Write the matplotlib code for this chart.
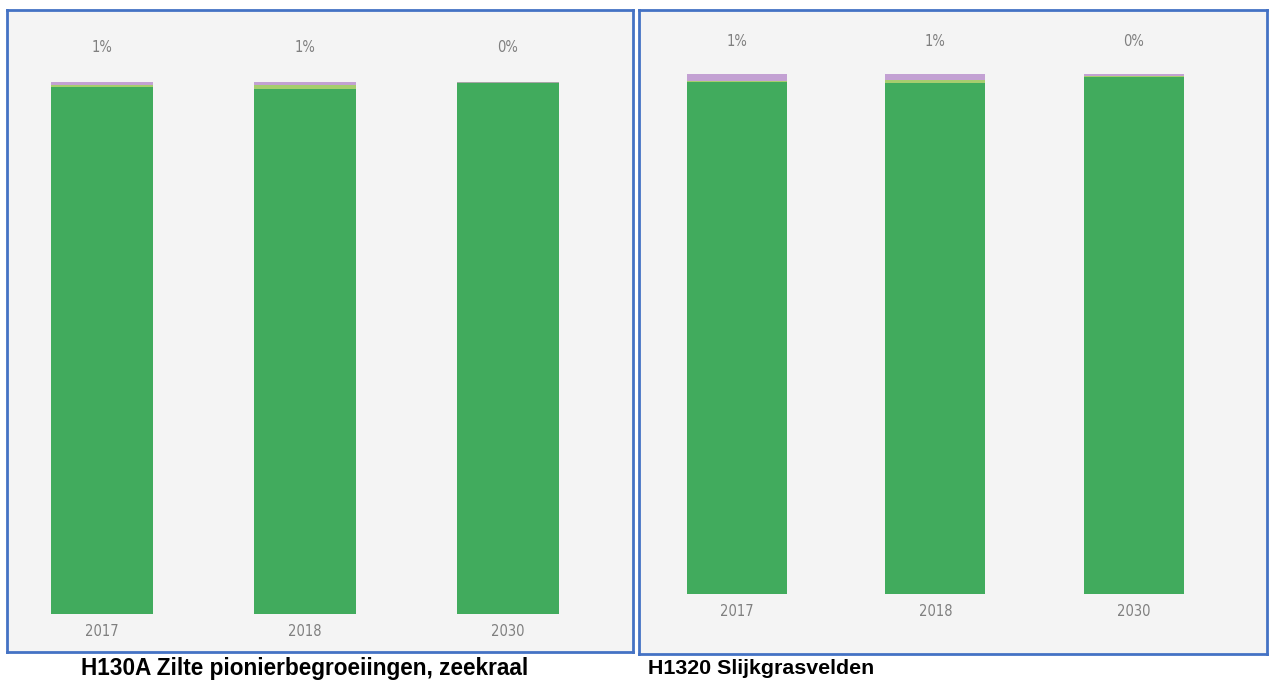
import matplotlib
matplotlib.use("Agg")
import matplotlib.pyplot as plt
import numpy as np

years = ["2017", "2018", "2030"]

# H130A panel (percent of area)
h130a_green = [99.05, 98.7, 99.8]
h130a_lightgreen = [0.45, 0.7, 0.0]
h130a_purple = [0.5, 0.6, 0.0]
h130a_grey = [0.0, 0.0, 0.2]
h130a_labels = ["1%", "1%", "0%"]

# H1320 panel
h1320_green = [98.4, 98.25, 99.4]
h1320_lightgreen = [0.3, 0.6, 0.3]
h1320_purple = [1.3, 1.15, 0.3]
h1320_grey = [0.0, 0.0, 0.0]
h1320_labels = ["1%", "1%", "0%"]

titles = ["H130A Zilte pionierbegroeiingen, zeekraal", "H1320 Slijkgrasvelden"]

C_GREEN = "#41ab5d"
C_LGREEN = "#a6cd6e"
C_PURPLE = "#c3a1d3"
C_GREY = "#a6a6a6"
BG = "#f4f4f4"
BORDER = "#4472c4"
TXT = "#7f7f7f"
SMALL_FONT = dict(family="DejaVu Sans", fontstretch="condensed", fontsize=10.5)

W, H = 1269, 682
fig = plt.figure(figsize=(W / 100, H / 100), dpi=100)
fig.patch.set_facecolor("white")


def px_axes(x0, y0, x1, y1):
    return fig.add_axes([x0 / W, 1 - y1 / H, (x1 - x0) / W, (y1 - y0) / H])


def draw(ax, green, lgreen, purple, grey, labels, xlim, ylim, width, label_y, tick_y):
    x = np.arange(len(years))
    ax.set_facecolor(BG)
    b = np.zeros(len(years))
    for vals, col in [(green, C_GREEN), (lgreen, C_LGREEN), (purple, C_PURPLE), (grey, C_GREY)]:
        v = np.array(vals)
        ax.bar(x, v, width, bottom=b, color=col, linewidth=0)
        b = b + v
    for xi, lab in zip(x, labels):
        ax.text(xi, label_y, lab, ha="center", va="center", color=TXT, **SMALL_FONT)
    for xi, yr in zip(x, years):
        ax.text(xi, tick_y, yr, ha="center", va="center", color=TXT, **SMALL_FONT)
    ax.set_xlim(*xlim)
    ax.set_ylim(*ylim)
    ax.set_xticks([])
    ax.set_yticks([])
    for s in ax.spines.values():
        s.set_color(BORDER)
        s.set_linewidth(2)


# left panel: box 7..633 x, 10..652 y ; bars centers 102,305,508 ; bottom 614 ; 100% at 82
ax1 = px_axes(7, 10, 633, 652)
sp1 = 203.0
py1 = 5.32
draw(ax1, h130a_green, h130a_lightgreen, h130a_purple, h130a_grey, h130a_labels,
     ((7 - 102) / sp1, (633 - 102) / sp1), ((614 - 652) / py1, (614 - 10) / py1),
     102 / sp1, (614 - 48) / py1, (614 - 632) / py1)

# right panel: box 639..1267 x, 10..654 y ; centers 737,935,1134 ; bottom 594 ; 100% at 74
ax2 = px_axes(639, 10, 1267, 654)
sp2 = 198.5
py2 = 5.20
draw(ax2, h1320_green, h1320_lightgreen, h1320_purple, h1320_grey, h1320_labels,
     ((639 - 737) / sp2, (1267 - 737) / sp2), ((594 - 654) / py2, (594 - 10) / py2),
     100 / sp2, (594 - 41) / py2, (594 - 611) / py2)

fig.text(305 / W, 1 - 669 / H, titles[0], ha="center", va="center",
         fontsize=16.3, fontweight="bold", family="Liberation Sans")
fig.text(648 / W, 1 - 669 / H, titles[1], ha="left", va="center",
         fontsize=15.4, fontweight="bold", family="Liberation Sans")

fig.savefig("out.png", dpi=100, facecolor="white")
